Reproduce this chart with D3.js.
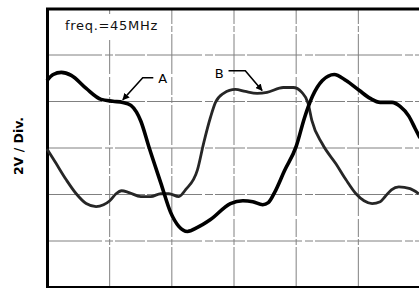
<!DOCTYPE html>
<html>
<head>
<meta charset="utf-8">
<script src="https://cdn.jsdelivr.net/npm/d3@7"></script>
<style>
body { margin: 0; background: #fff; }
text { font-family: "DejaVu Sans", sans-serif; }
</style>
</head>
<body>
<script>
// time axis in divisions (6 div), amplitude in volts (2V / div)
var timeA = [0, 0.1, 0.23, 0.39, 0.63, 0.87, 1.06, 1.22, 1.35, 1.44, 1.51, 1.64, 1.83, 1.99, 2.12, 2.26, 2.42, 2.63, 2.95, 3.15, 3.31, 3.47, 3.56, 3.66, 3.82, 4.01, 4.14, 4.27, 4.43, 4.62, 4.81, 5.02, 5.2, 5.36, 5.55, 5.68, 5.82, 5.92, 6.0];
var voltA = [2.88, 3.14, 3.23, 3.1, 2.54, 2.07, 1.99, 1.94, 1.81, 1.52, 1.13, 0.02, -1.52, -2.8, -3.39, -3.61, -3.44, -3.1, -2.41, -2.29, -2.33, -2.46, -2.37, -1.94, -1.0, 0.06, 1.26, 2.2, 2.88, 3.14, 2.88, 2.46, 2.11, 1.94, 1.94, 1.77, 1.35, 0.83, 0.41];

var timeB = [0, 0.14, 0.31, 0.47, 0.63, 0.79, 0.91, 1.01, 1.11, 1.2, 1.32, 1.51, 1.67, 1.83, 1.96, 2.12, 2.23, 2.42, 2.52, 2.63, 2.71, 2.84, 3.03, 3.19, 3.38, 3.54, 3.8, 3.96, 4.1, 4.2, 4.26, 4.43, 4.65, 4.81, 4.97, 5.1, 5.23, 5.36, 5.44, 5.54, 5.66, 5.84, 5.98];
var voltB = [-0.06, -0.66, -1.39, -1.99, -2.41, -2.54, -2.46, -2.29, -1.99, -1.86, -1.94, -2.11, -2.11, -1.99, -1.99, -2.11, -1.81, -0.96, 0.19, 1.3, 1.94, 2.33, 2.5, 2.41, 2.33, 2.37, 2.58, 2.58, 2.37, 1.9, 1.17, 0.15, -0.71, -1.39, -1.99, -2.29, -2.41, -2.33, -2.11, -1.82, -1.69, -1.77, -1.99];

var xTicks = [1, 2, 3, 4, 5];
var yTicks = [-4, -2, 0, 2, 4];
var freqLabel = "freq.=45MHz";
var yLabel = "2V / Div.";

var W = 419, H = 288;
var mLeft = 47, mTop = 8, mRight = 420, mBottom = 287;

var svg = d3.select("body").append("svg")
    .attr("width", W)
    .attr("height", H);

var x = d3.scaleLinear().domain([0, 6]).range([mLeft, mRight]);
var y = d3.scaleLinear().domain([-6, 6]).range([mBottom, mTop]);

// grid
svg.append("g")
    .attr("transform", "translate(0," + mBottom + ")")
    .call(d3.axisBottom(x).tickValues(xTicks).tickSize(-(mBottom - mTop)).tickFormat(""))
    .call(function(g) { g.select(".domain").remove(); })
    .selectAll("line")
    .attr("stroke", "#808080")
    .attr("stroke-width", 1)
    .attr("stroke-dasharray", "40,2,6,2,18,3");

svg.append("g")
    .attr("transform", "translate(" + mLeft + ",0)")
    .call(d3.axisLeft(y).tickValues(yTicks).tickSize(-(mRight - mLeft)).tickFormat(""))
    .call(function(g) { g.select(".domain").remove(); })
    .selectAll("line")
    .attr("stroke", "#808080")
    .attr("stroke-width", 1)
    .attr("stroke-dasharray", "55,3,8,2,30,2");

// label box
svg.append("rect")
    .attr("x", 60).attr("y", 14)
    .attr("width", 110).attr("height", 26)
    .attr("fill", "#fff");

svg.append("text")
    .attr("x", 65)
    .attr("y", 30)
    .attr("font-size", 13)
    .attr("letter-spacing", 0.7)
    .attr("fill", "#111")
    .text(freqLabel);

// frame
svg.append("path")
    .attr("d", "M" + mRight + "," + (mTop + 1) + "H" + (mLeft + 0.5) + "V" + (mBottom + 0.5) + "H" + mRight)
    .attr("fill", "none")
    .attr("stroke", "#000")
    .attr("stroke-width", 3);

var line = d3.line()
    .x(function(d) { return x(d[0]); })
    .y(function(d) { return y(d[1]); })
    .curve(d3.curveMonotoneX);

var dataB = d3.zip(timeB, voltB);
var dataA = d3.zip(timeA, voltA);

svg.append("path")
    .datum(dataB)
    .attr("d", line)
    .attr("fill", "none")
    .attr("stroke", "#262626")
    .attr("stroke-width", 2.8)
    .attr("stroke-linejoin", "round");

svg.append("path")
    .datum(dataA)
    .attr("d", line)
    .attr("fill", "none")
    .attr("stroke", "#000")
    .attr("stroke-width", 3.6)
    .attr("stroke-linejoin", "round");

// arrows
svg.append("defs").append("marker")
    .attr("id", "arr")
    .attr("viewBox", "0 0 10 10")
    .attr("refX", 9).attr("refY", 5)
    .attr("markerWidth", 7).attr("markerHeight", 7)
    .attr("markerUnits", "userSpaceOnUse")
    .attr("orient", "auto")
    .append("path")
    .attr("d", "M0,0L10,5L0,10z")
    .attr("fill", "#000");

var labels = [
    {name: "A", tx: 1.79, ty: 3.0, pts: [[1.71, 3.0], [1.54, 3.0], [1.22, 2.05]]},
    {name: "B", tx: 2.7, ty: 3.2, pts: [[2.92, 3.3], [3.19, 3.3], [3.46, 2.45]]}
];

labels.forEach(function(l) {
    svg.append("path")
        .attr("d", d3.line()(l.pts.map(function(p) { return [x(p[0]), y(p[1])]; })))
        .attr("fill", "none")
        .attr("stroke", "#000")
        .attr("stroke-width", 1.6)
        .attr("marker-end", "url(#arr)");
    svg.append("text")
        .attr("x", x(l.tx))
        .attr("y", y(l.ty) + 5)
        .attr("font-size", 13)
        .text(l.name);
});

svg.append("text")
    .attr("transform", "translate(23,146) rotate(-90)")
    .attr("text-anchor", "middle")
    .attr("font-size", 12.5)
    .attr("font-weight", "bold")
    .text(yLabel);
</script>
</body>
</html>
